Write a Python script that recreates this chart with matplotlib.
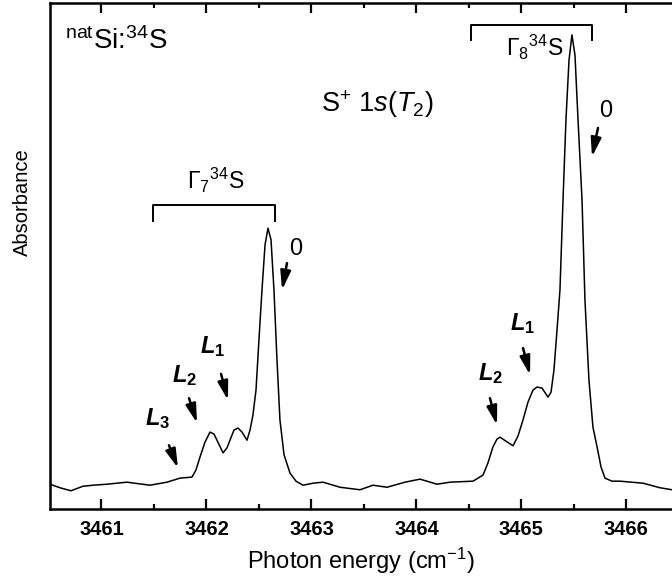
from matplotlib import pyplot as plt
from matplotlib.ticker import MultipleLocator
import numpy as np

plt.rcParams['font.family'] = 'Liberation Sans'
plt.rcParams['mathtext.fontset'] = 'custom'
plt.rcParams['mathtext.rm'] = 'Liberation Sans'
plt.rcParams['mathtext.it'] = 'Liberation Sans:italic'
plt.rcParams['mathtext.bf'] = 'Liberation Sans:bold'
plt.rcParams['mathtext.bfit'] = 'Liberation Sans:italic:bold'

# spectrum (photon energy in cm^-1, absorbance in arb. units)
energy = [3460.510, 3460.605, 3460.710, 3460.824, 3460.920, 3461.053, 3461.243,
          3461.462, 3461.624, 3461.748, 3461.862, 3461.900, 3461.939, 3461.986,
          3462.034, 3462.072, 3462.100, 3462.158, 3462.196, 3462.224, 3462.262,
          3462.300, 3462.339, 3462.386, 3462.415, 3462.443, 3462.472, 3462.500,
          3462.529, 3462.558, 3462.586, 3462.615, 3462.643, 3462.672, 3462.700,
          3462.739, 3462.796, 3462.853, 3462.920, 3463.015, 3463.110, 3463.272,
          3463.462, 3463.586, 3463.720, 3463.891, 3464.034, 3464.196, 3464.320,
          3464.539, 3464.634, 3464.681, 3464.729, 3464.767, 3464.796, 3464.853,
          3464.920, 3464.967, 3465.015, 3465.062, 3465.110, 3465.148, 3465.196,
          3465.253, 3465.282, 3465.310, 3465.339, 3465.367, 3465.396, 3465.424,
          3465.453, 3465.481, 3465.510, 3465.539, 3465.577, 3465.605, 3465.643,
          3465.681, 3465.720, 3465.758, 3465.796, 3465.862, 3465.939, 3466.158,
          3466.320, 3466.434]
absorb = [0.049, 0.042, 0.036, 0.045, 0.047, 0.049, 0.053,
          0.047, 0.053, 0.061, 0.063, 0.077, 0.103, 0.132,
          0.152, 0.148, 0.136, 0.111, 0.121, 0.136, 0.156,
          0.160, 0.152, 0.136, 0.156, 0.186, 0.235, 0.334,
          0.433, 0.522, 0.555, 0.532, 0.433, 0.294, 0.176,
          0.107, 0.071, 0.055, 0.047, 0.051, 0.053, 0.043,
          0.038, 0.047, 0.043, 0.053, 0.059, 0.049, 0.053,
          0.055, 0.067, 0.091, 0.123, 0.138, 0.142, 0.134,
          0.125, 0.144, 0.176, 0.211, 0.235, 0.241, 0.239,
          0.221, 0.231, 0.275, 0.354, 0.433, 0.611, 0.769,
          0.887, 0.937, 0.897, 0.769, 0.611, 0.413, 0.255,
          0.162, 0.123, 0.083, 0.061, 0.055, 0.055, 0.051,
          0.042, 0.038]

xticks = [3461, 3462, 3463, 3464, 3465, 3466]

fig = plt.figure(figsize=(6.72, 5.76), dpi=100)
ax = fig.add_axes([50/672, 1-509/576, 622/672, 506/576])
ax.plot(energy, absorb, color='black', lw=1.1)

ax.set_xlim(3460.51, 3466.434)
ax.set_ylim(0, 1)
ax.set_xticks(xticks)
ax.set_xticklabels([str(t) for t in xticks], fontsize=14.5, fontweight='bold')
ax.xaxis.set_minor_locator(MultipleLocator(0.5))
ax.set_yticks([])
ax.tick_params(axis='x', which='major', direction='in', length=7, width=1.6,
               top=True, pad=8)
ax.tick_params(axis='x', which='minor', direction='in', length=3.5, width=1.6,
               top=True)
ax.spines['right'].set_visible(False)
for s in ['left', 'bottom', 'top']:
    ax.spines[s].set_linewidth(1.8)

ax.set_xlabel(r'Photon energy (cm$^{-1}$)', fontsize=17, labelpad=5)
fig.text(22/672, 1-202/576, 'Absorbance', rotation=90, fontsize=14.5,
         ha='center', va='center')

# labels
ax.text(3460.653, 0.909, r'$^{\mathrm{nat}}$Si:$^{34}$S', fontsize=20, va='baseline')
ax.text(3463.091, 0.785, r'S$^{+}$ $\mathit{1s}$($\mathit{T}_{2}$)', fontsize=19.5, va='baseline')
ax.text(3461.815, 0.632, r'$\Gamma_{7}{}^{34}$S', fontsize=16.5, va='baseline')
ax.text(3464.855, 0.895, r'$\Gamma_{8}{}^{34}$S', fontsize=16.5, va='baseline')

# brackets over the two multiplets
for x0, x1, y0, d in [(3461.49, 3462.65, 0.601, 0.032), (3464.52, 3465.67, 0.957, 0.030)]:
    ax.plot([x0, x0, x1, x1], [y0-d, y0, y0, y0-d], color='black', lw=1.4)

arrow = dict(arrowstyle='-|>,head_length=0.8,head_width=0.22', color='black',
             lw=1.8, shrinkA=0, shrinkB=0, mutation_scale=14)

ax.text(3462.853, 0.502, '0', fontsize=17, ha='center', va='baseline')
ax.annotate('', xy=(3462.720, 0.433), xytext=(3462.767, 0.486), arrowprops=arrow)
ax.text(3465.805, 0.775, '0', fontsize=17, ha='center', va='baseline')
ax.annotate('', xy=(3465.672, 0.696), xytext=(3465.729, 0.753), arrowprops=arrow)

lines = [('1', 3461.939, 0.308, (3462.139, 0.267), (3462.205, 0.215)),
         ('2', 3461.672, 0.251, (3461.834, 0.219), (3461.910, 0.170)),
         ('3', 3461.415, 0.166, (3461.643, 0.126), (3461.729, 0.081)),
         ('1', 3464.891, 0.354, (3465.015, 0.318), (3465.082, 0.265)),
         ('2', 3464.586, 0.255, (3464.700, 0.219), (3464.767, 0.166))]
for sub, lx, ly, a0, a1 in lines:
    ax.text(lx, ly, r'$\mathbfit{L}_{\mathbf{%s}}$' % sub, fontsize=17, va='baseline')
    ax.annotate('', xy=a1, xytext=a0, arrowprops=arrow)

fig.savefig('out.png', dpi=100)
